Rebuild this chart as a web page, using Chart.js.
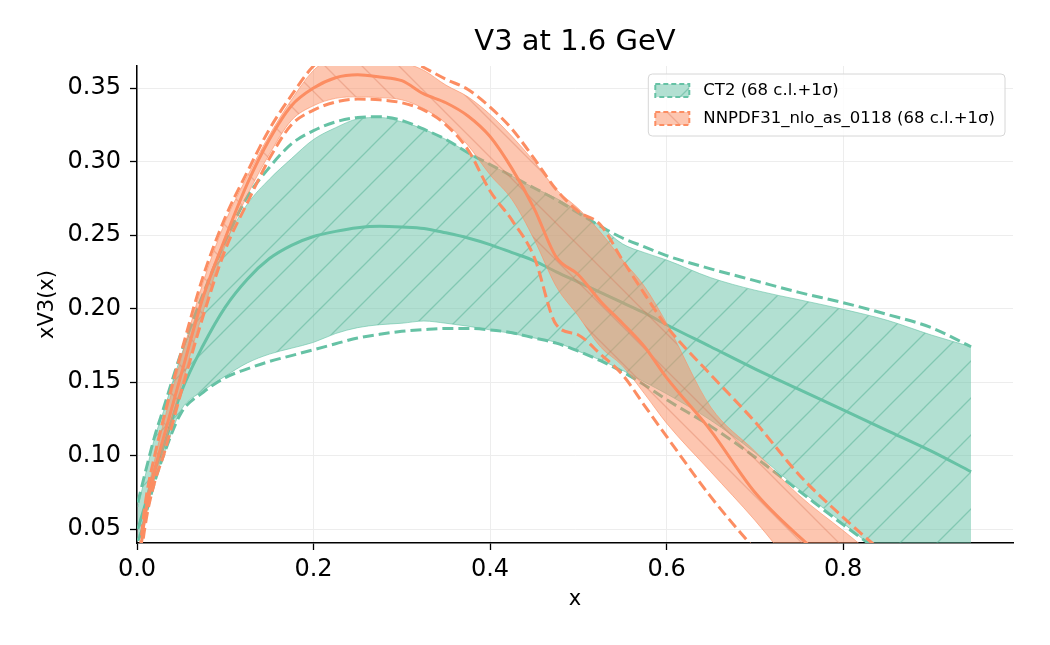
<!DOCTYPE html>
<html>
<head>
<meta charset="utf-8">
<script src="https://cdn.jsdelivr.net/npm/chart.js@4.4.0/dist/chart.umd.min.js"></script>
<style>
  html, body { margin: 0; padding: 0; background: #fff; }
</style>
</head>
<body>
<canvas id="pdfChart" width="1050" height="645"></canvas>
<script>
// x grid shared by every curve
const xs = [0.001, 0.005, 0.01, 0.02, 0.03, 0.05, 0.075, 0.1, 0.125, 0.15, 0.175, 0.2, 0.225, 0.25, 0.275,
  0.3, 0.325, 0.35, 0.375, 0.4, 0.425, 0.45, 0.475, 0.5, 0.525, 0.55, 0.575, 0.6, 0.65, 0.7, 0.75, 0.8,
  0.85, 0.9, 0.945];

// CT2
const ct2Central = [0.05, 0.058, 0.068, 0.09, 0.106, 0.143, 0.175, 0.201, 0.22, 0.234, 0.243, 0.249, 0.2525, 0.255, 0.256,
  0.2555, 0.2545, 0.2515, 0.248, 0.2435, 0.238, 0.2325, 0.225, 0.218, 0.211, 0.204, 0.197, 0.189, 0.174, 0.159, 0.145, 0.131,
  0.117, 0.103, 0.089];
const ct2BandHi = [0.065, 0.075, 0.088, 0.112, 0.13, 0.168, 0.207, 0.245, 0.271, 0.288, 0.302, 0.315, 0.323, 0.329, 0.33,
  0.327, 0.322, 0.315, 0.306, 0.298, 0.29, 0.282, 0.275, 0.266, 0.256, 0.244, 0.238, 0.233, 0.221, 0.2125, 0.206, 0.1995,
  0.192, 0.182, 0.174];
const ct2BandLo = [0.045, 0.05, 0.062, 0.083, 0.1, 0.131, 0.144, 0.154, 0.163, 0.169, 0.173, 0.177, 0.183, 0.187, 0.189,
  0.19, 0.1915, 0.19, 0.188, 0.1855, 0.183, 0.18, 0.177, 0.171, 0.165, 0.158, 0.15, 0.142, 0.124, 0.102, 0.077, 0.054,
  0.03, 0.01, -0.01];
const ct2DashHi = [0.068, 0.078, 0.09, 0.113, 0.132, 0.17, 0.21, 0.246, 0.276, 0.296, 0.312, 0.321, 0.327, 0.33, 0.3305,
  0.328, 0.322, 0.315, 0.306, 0.298, 0.29, 0.282, 0.274, 0.265, 0.256, 0.248, 0.242, 0.236, 0.227, 0.219, 0.211, 0.204,
  0.196, 0.187, 0.174];
const ct2DashLo = [0.042, 0.048, 0.06, 0.082, 0.1, 0.129, 0.143, 0.153, 0.159, 0.164, 0.168, 0.172, 0.176, 0.18, 0.1825,
  0.1845, 0.1857, 0.1865, 0.1865, 0.1855, 0.1835, 0.18, 0.1765, 0.171, 0.1645, 0.157, 0.148, 0.138, 0.12, 0.099, 0.076, 0.053,
  0.031, 0.01, -0.01];

// NNPDF31_nlo_as_0118
const nnCentral = [0.01, 0.04, 0.062, 0.09, 0.112, 0.155, 0.208, 0.248, 0.285, 0.315, 0.338, 0.35, 0.357, 0.359, 0.3575,
  0.355, 0.346, 0.34, 0.331, 0.317, 0.295, 0.268, 0.235, 0.223, 0.205, 0.19, 0.174, 0.153, 0.117, 0.075, 0.045, 0.02,
  0.0, -0.02, -0.04];
const nnBandHi = [0.012, 0.043, 0.068, 0.097, 0.122, 0.166, 0.218, 0.259, 0.29, 0.318, 0.342, 0.362, 0.372, 0.376, 0.374,
  0.368, 0.362, 0.352, 0.344, 0.332, 0.317, 0.3, 0.281, 0.268, 0.252, 0.233, 0.215, 0.19, 0.133, 0.103, 0.073, 0.049,
  0.025, 0.005, -0.015];
const nnBandLo = [0.005, 0.035, 0.058, 0.085, 0.105, 0.147, 0.198, 0.243, 0.277, 0.305, 0.328, 0.338, 0.343, 0.344, 0.3435,
  0.342, 0.336, 0.326, 0.311, 0.291, 0.274, 0.247, 0.215, 0.195, 0.174, 0.161, 0.142, 0.122, 0.089, 0.056, 0.02, -0.01,
  -0.03, -0.05, -0.07];
const nnDashHi = [0.013, 0.045, 0.07, 0.1, 0.125, 0.17, 0.222, 0.262, 0.293, 0.322, 0.345, 0.365, 0.375, 0.38, 0.378,
  0.372, 0.364, 0.356, 0.349, 0.337, 0.322, 0.302, 0.281, 0.266, 0.257, 0.233, 0.21, 0.188, 0.155, 0.123, 0.087, 0.058,
  0.032, 0.01, -0.01];
const nnDashLo = [0.0, 0.032, 0.055, 0.082, 0.1, 0.143, 0.195, 0.24, 0.272, 0.302, 0.325, 0.335, 0.3405, 0.3425, 0.342,
  0.34, 0.335, 0.325, 0.308, 0.28, 0.26, 0.235, 0.189, 0.182, 0.169, 0.155, 0.134, 0.113, 0.072, 0.036, 0.0, -0.03,
  -0.05, -0.07, -0.09];

const legendLabels = ['CT2 (68 c.l.+1σ)', 'NNPDF31_nlo_as_0118 (68 c.l.+1σ)'];

const GREEN = '#66c2a5';
const ORANGE = '#fc8d62';
const FONT = 'DejaVu Sans';

function makeHatch(bg, line, dir) {
  const s = 37;
  const c = document.createElement('canvas');
  c.width = s; c.height = s;
  const g = c.getContext('2d');
  g.fillStyle = bg;
  g.fillRect(0, 0, s, s);
  g.strokeStyle = line;
  g.lineWidth = 1.3;
  g.beginPath();
  if (dir === '/') {
    g.moveTo(-2, s + 2); g.lineTo(s + 2, -2);
    g.moveTo(-2, 2); g.lineTo(2, -2);
    g.moveTo(s - 2, s + 2); g.lineTo(s + 2, s - 2);
  } else {
    g.moveTo(-2, -2); g.lineTo(s + 2, s + 2);
    g.moveTo(s - 2, -2); g.lineTo(s + 2, 2);
    g.moveTo(-2, s - 2); g.lineTo(2, s + 2);
  }
  g.stroke();
  return g.createPattern(c, 'repeat');
}

const greenHatch = makeHatch('rgba(102,194,165,0.5)', 'rgba(70,170,140,0.45)', '/');
const orangeHatch = makeHatch('rgba(252,141,98,0.5)', 'rgba(215,115,85,0.35)', '\\');

const pts = ys => xs.map((x, i) => ({ x: x, y: ys[i] }));

function line(data, color, opts) {
  return Object.assign({
    data: pts(data),
    borderColor: color,
    borderWidth: 3,
    pointRadius: 0,
    fill: false,
    cubicInterpolationMode: 'monotone',
    clip: 0
  }, opts);
}

const dash = [11, 5];
const datasets = [
  line(ct2BandLo, 'rgba(102,194,165,0.6)', { borderWidth: 1, order: 20 }),
  line(ct2BandHi, 'rgba(102,194,165,0.6)', { borderWidth: 1, order: 19, fill: '-1', backgroundColor: greenHatch }),
  line(ct2Central, GREEN, { order: 18 }),
  line(ct2DashHi, GREEN, { order: 17, borderDash: dash }),
  line(ct2DashLo, GREEN, { order: 17, borderDash: dash }),
  line(nnBandLo, 'rgba(252,141,98,0.6)', { borderWidth: 1, order: 10 }),
  line(nnBandHi, 'rgba(252,141,98,0.6)', { borderWidth: 1, order: 9, fill: '-1', backgroundColor: orangeHatch }),
  line(nnCentral, ORANGE, { order: 8 }),
  line(nnDashHi, ORANGE, { order: 7, borderDash: dash }),
  line(nnDashLo, ORANGE, { order: 7, borderDash: dash })
];

// legend box in the upper right corner of the plot
const bandLegend = {
  id: 'bandLegend',
  afterDraw(chart) {
    const { ctx, chartArea } = chart;
    const patches = [[greenHatch, GREEN], [orangeHatch, ORANGE]];
    ctx.save();
    ctx.font = '16.5px "' + FONT + '"';
    const textW = Math.max(...legendLabels.map(t => ctx.measureText(t).width));
    const w = 55 + textW + 10;
    const h = 62;
    const right = chartArea.right - 8;
    const left = right - w;
    const top = chartArea.top + 8;
    ctx.beginPath();
    ctx.roundRect(left, top, w, h, 4);
    ctx.fillStyle = 'rgba(255,255,255,0.8)';
    ctx.fill();
    ctx.strokeStyle = '#d6d6d6';
    ctx.lineWidth = 1;
    ctx.stroke();
    legendLabels.forEach((label, i) => {
      const cy = top + 16 + i * 28;
      ctx.fillStyle = patches[i][0];
      ctx.fillRect(left + 7, cy - 6, 34, 13);
      ctx.setLineDash([5, 3]);
      ctx.strokeStyle = patches[i][1];
      ctx.lineWidth = 2;
      ctx.strokeRect(left + 7, cy - 6, 34, 13);
      ctx.setLineDash([]);
      ctx.fillStyle = '#000';
      ctx.textBaseline = 'middle';
      ctx.textAlign = 'left';
      ctx.fillText(label, left + 55, cy + 1);
    });
    ctx.restore();
  }
};

new Chart(document.getElementById('pdfChart'), {
  type: 'line',
  data: { datasets },
  plugins: [bandLegend],
  options: {
    responsive: false,
    animation: false,
    devicePixelRatio: 1,
    layout: { padding: { left: 0, right: 37, top: 0, bottom: 0 } },
    plugins: {
      legend: { display: false },
      tooltip: { enabled: false },
      title: {
        display: true,
        fullSize: false,
        text: 'V3 at 1.6 GeV',
        color: '#000',
        font: { family: FONT, size: 29, weight: 'normal', lineHeight: 1.2 },
        padding: { top: 24.6, bottom: 6.6 }
      }
    },
    scales: {
      x: {
        type: 'linear',
        min: 0,
        max: 0.9925,
        afterFit: s => { s.height = 102; },
        ticks: {
          stepSize: 0.2,
          includeBounds: false,
          maxRotation: 0,
          padding: 5,
          color: '#000',
          font: { family: FONT, size: 24 },
          callback: v => v.toFixed(1)
        },
        grid: { color: '#ededed', tickColor: '#000', tickLength: 7, tickWidth: 1.3 },
        border: { color: '#000', width: 1.5 },
        title: {
          display: true, text: 'x', color: '#000',
          font: { family: FONT, size: 21, lineHeight: 1.2 },
          padding: { top: 0, bottom: 33 }
        }
      },
      y: {
        type: 'linear',
        min: 0.0405,
        max: 0.365,
        afterFit: s => { s.width = 137; },
        ticks: {
          stepSize: 0.05,
          includeBounds: false,
          padding: 9,
          color: '#000',
          font: { family: FONT, size: 24 },
          callback: v => v.toFixed(2)
        },
        grid: { color: '#ededed', tickColor: '#000', tickLength: 7, tickWidth: 1.3 },
        border: { color: '#000', width: 1.5 },
        title: {
          display: true, text: 'xV3(x)', color: '#000',
          font: { family: FONT, size: 21, lineHeight: 1.2 },
          padding: { top: 35, bottom: 0 }
        }
      }
    }
  }
});
</script>
</body>
</html>
